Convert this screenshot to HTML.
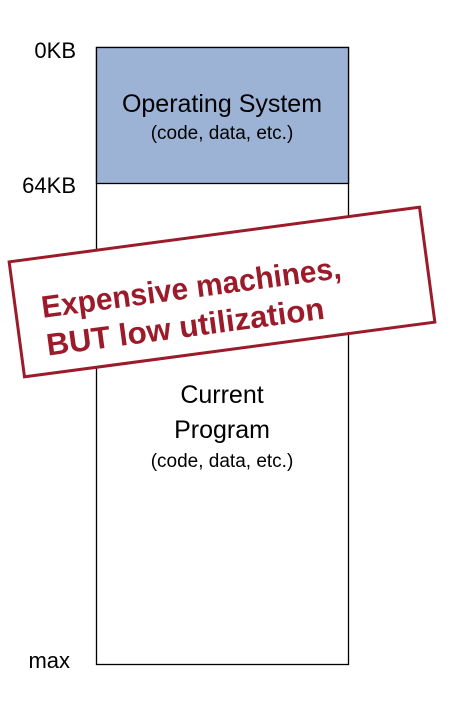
<!DOCTYPE html>
<html><head><style>
body{margin:0;background:#fff;}
svg{display:block;}
text{font-family:"Liberation Sans",sans-serif;}
</style></head><body>
<svg width="452" height="712" xmlns="http://www.w3.org/2000/svg">
<rect x="96.5" y="47.5" width="252" height="617" fill="#fff" stroke="#000" stroke-width="1.3"/>
<rect x="96.5" y="47.5" width="252" height="136" fill="#9db3d6" stroke="#000" stroke-width="1.3"/>
<text x="222" y="112" font-size="25" text-anchor="middle" fill="#000">Operating System</text>
<text x="222" y="139" font-size="19" text-anchor="middle" fill="#000">(code, data, etc.)</text>
<text x="222" y="403" font-size="25" text-anchor="middle" fill="#000">Current</text>
<text x="222" y="438" font-size="25" text-anchor="middle" fill="#000">Program</text>
<text x="222" y="467" font-size="19" text-anchor="middle" fill="#000">(code, data, etc.)</text>
<text x="76" y="58" font-size="22" text-anchor="end" fill="#000">0KB</text>
<text x="76" y="193" font-size="22" text-anchor="end" fill="#000">64KB</text>
<text x="70" y="668" font-size="22" text-anchor="end" fill="#000">max</text>
<g transform="translate(222,292) rotate(-7.6)">
<rect x="-207" y="-58" width="414" height="116" fill="#fff" stroke="#9b1b2a" stroke-width="3"/>
<text x="-181" y="2" font-size="31" font-weight="bold" fill="#9b1b2a" textLength="302" lengthAdjust="spacingAndGlyphs">Expensive machines,</text>
<text x="-181" y="40" font-size="31" font-weight="bold" fill="#9b1b2a" textLength="280" lengthAdjust="spacingAndGlyphs">BUT low utilization</text>
</g>
</svg>
</body></html>
